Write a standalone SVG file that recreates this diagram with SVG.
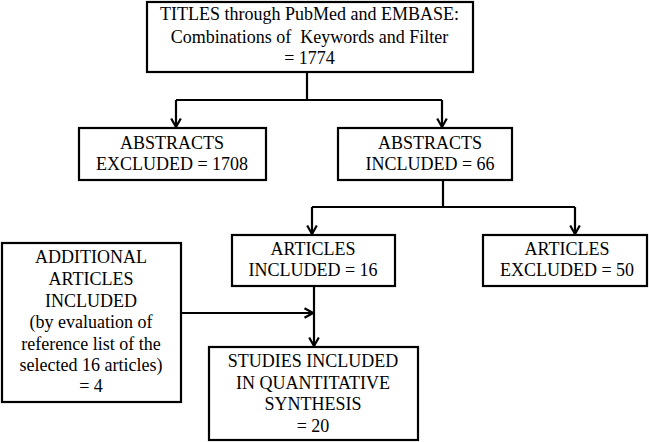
<svg xmlns="http://www.w3.org/2000/svg" width="649" height="442" viewBox="0 0 649 442">
<defs>
<marker id="ah" markerUnits="userSpaceOnUse" markerWidth="14" markerHeight="14" viewBox="0 0 14 14" refX="12" refY="7" orient="auto">
<path d="M3.5,2.2 L12,7 L3.5,11.8" fill="none" stroke="#000" stroke-width="2.2"/>
</marker>
</defs>
<g id="connectors" fill="none" stroke="#000" stroke-width="2.2">
<path d="M307,72 V100 M176,100 H442"/>
<path d="M176,100 V127" marker-end="url(#ah)"/>
<path d="M442,100 V127" marker-end="url(#ah)"/>
<path d="M443,180 V207 M312,207 H575"/>
<path d="M312,207 V234" marker-end="url(#ah)"/>
<path d="M575,207 V234" marker-end="url(#ah)"/>
<path d="M314,286 V346" marker-end="url(#ah)"/>
<path d="M181,313 H313" marker-end="url(#ah)"/>
</g>
<g id="boxes" fill="#fff" stroke="#000" stroke-width="2.2">
<rect id="titles-box" x="147" y="2" width="326" height="70"/>
<rect id="abstracts-excluded-box" x="79" y="128" width="187" height="52"/>
<rect id="abstracts-included-box" x="338" y="128" width="174" height="52"/>
<rect id="articles-included-box" x="232" y="235" width="163" height="51"/>
<rect id="articles-excluded-box" x="483" y="235" width="164" height="51"/>
<rect id="additional-box" x="2" y="243" width="179" height="159"/>
<rect id="studies-box" x="209" y="347" width="209" height="93"/>
</g>
<g style="font-family:'Liberation Serif',serif;font-size:18px;text-anchor:middle;fill:#000">
<g id="titles">
<text x="309.5" y="20">TITLES through PubMed and EMBASE:</text>
<text x="309.5" y="43" xml:space="preserve">Combinations of  Keywords and Filter</text>
<text x="309.5" y="64">= 1774</text>
</g>
<g id="abstracts-excluded">
<text x="172" y="149">ABSTRACTS</text>
<text x="172" y="170">EXCLUDED = 1708</text>
</g>
<g id="abstracts-included">
<text x="430" y="149">ABSTRACTS</text>
<text x="430" y="170">INCLUDED = 66</text>
</g>
<g id="articles-included">
<text x="313" y="255">ARTICLES</text>
<text x="313" y="276">INCLUDED = 16</text>
</g>
<g id="articles-excluded">
<text x="567" y="255">ARTICLES</text>
<text x="567" y="276">EXCLUDED = 50</text>
</g>
<g id="additional">
<text x="91" y="263">ADDITIONAL</text>
<text x="91" y="285">ARTICLES</text>
<text x="91" y="307">INCLUDED</text>
<text x="91" y="328">(by evaluation of</text>
<text x="91" y="350">reference list of the</text>
<text x="91" y="371">selected 16 articles)</text>
<text x="91" y="392">= 4</text>
</g>
<g id="studies">
<text x="313" y="367">STUDIES INCLUDED</text>
<text x="313" y="389">IN QUANTITATIVE</text>
<text x="313" y="410">SYNTHESIS</text>
<text x="313" y="432">= 20</text>
</g>
</g>
</svg>
